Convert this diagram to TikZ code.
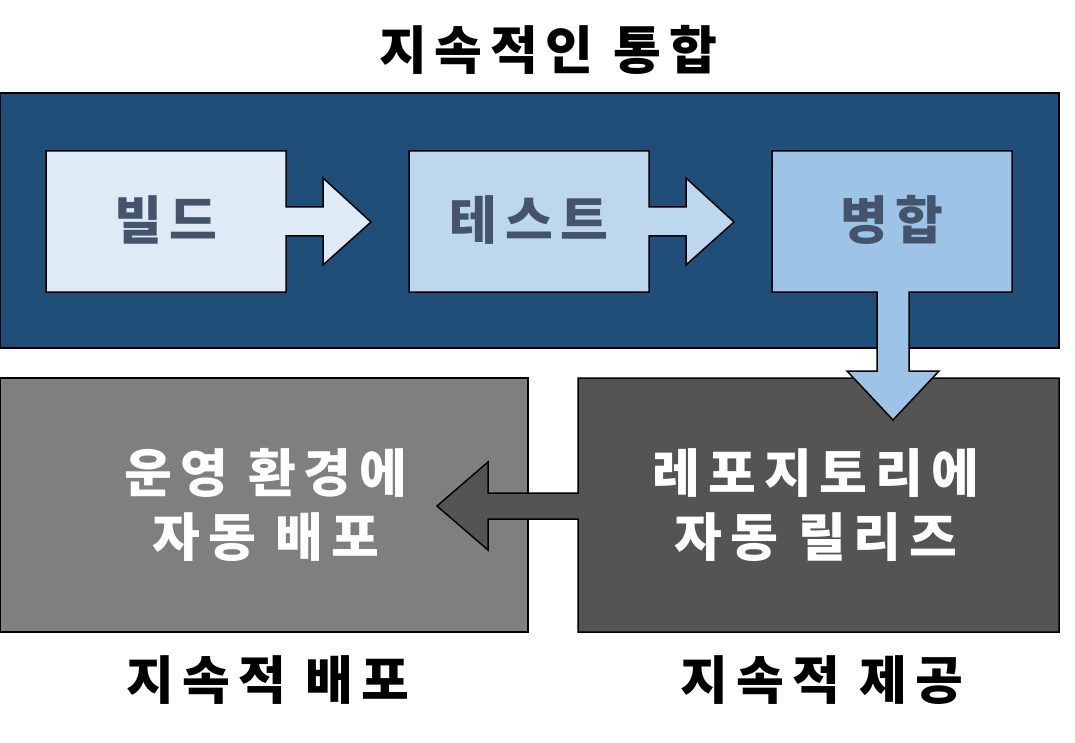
\documentclass[tikz,border=0pt]{standalone}
\usepackage{fontspec}
\newfontfamily\kr{Noto Sans CJK KR}[LetterSpace=15]
\definecolor{ciblue}{HTML}{1F4E79}
\definecolor{buildc}{HTML}{DEEBF7}
\definecolor{testc}{HTML}{BDD7EE}
\definecolor{mergec}{HTML}{9DC3E6}
\definecolor{inkc}{HTML}{44546A}
\definecolor{grayl}{HTML}{7F7F7F}
\definecolor{grayd}{HTML}{545454}
\tikzset{
  panel/.style={draw=black, line width=1.5pt, line join=miter},
  lbl/.style={font=\kr\bfseries\fontsize{52}{64}\selectfont, align=center, inner sep=0pt},
  boxlbl/.style={lbl, text=inkc},
  whitelbl/.style={lbl, text=white},
}
\begin{document}
\begin{tikzpicture}[x=1pt,y=-1pt]
\useasboundingbox (0,0) rectangle (1075,743);
\fill[white] (0,0) rectangle (1075,743);
% CI panel
\draw[panel, fill=ciblue] (0,93) rectangle (1059,348);
% bottom boxes
\draw[panel, fill=grayl] (0,378) rectangle (528,632);
\draw[panel, fill=grayd] (578,378) -- (1059,378) -- (1059,632) -- (578,632) -- (578,519) -- (488,519) -- (488,550) -- (437,506) -- (488,462) -- (488,493) -- (578,493) -- cycle;
% build
\draw[panel, fill=buildc] (46,151) -- (286,151) -- (286,207) -- (323,207) -- (323,178) -- (371,222) -- (323,265) -- (323,236) -- (286,236) -- (286,292) -- (46,292) -- cycle;
% test
\draw[panel, fill=testc] (409,151) -- (649,151) -- (649,207) -- (686,207) -- (686,178) -- (734,222) -- (686,265) -- (686,236) -- (649,236) -- (649,292) -- (409,292) -- cycle;
% merge
\draw[panel, fill=mergec] (772,151) -- (1012,151) -- (1012,292) -- (909,292) -- (909,371) -- (939,371) -- (893,420) -- (847,371) -- (877,371) -- (877,292) -- (772,292) -- cycle;
% labels
\node[lbl] (title) at (548,50) {지속적인 통합};
\node[boxlbl] (build) at (166,220) {빌드};
\node[boxlbl] (test) at (529,220) {테스트};
\node[boxlbl] (merge) at (892,220) {병합};
\node[whitelbl] (deploy) at (266,505) {운영 환경에\\자동 배포};
\node[whitelbl] (release) at (816,505) {레포지토리에\\자동 릴리즈};
\node[lbl] (cd1) at (268,680) {지속적 배포};
\node[lbl] (cd2) at (822,680) {지속적 제공};
\end{tikzpicture}
\end{document}
